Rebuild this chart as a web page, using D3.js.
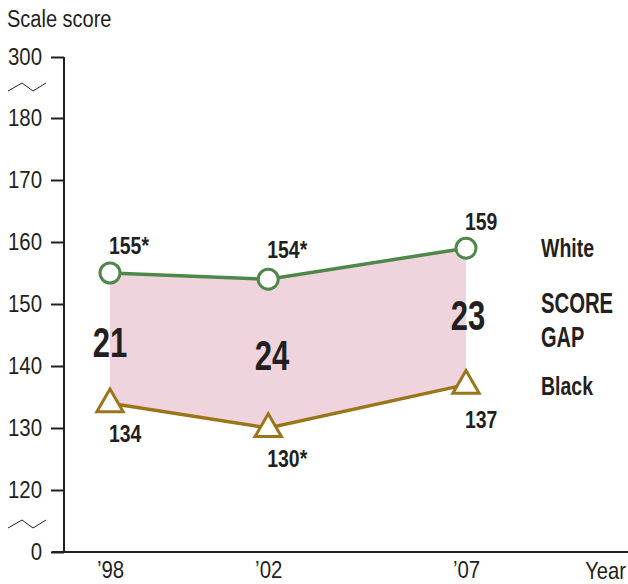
<!DOCTYPE html>
<html>
<head>
<meta charset="utf-8">
<script src="https://cdn.jsdelivr.net/npm/d3@7"></script>
<style>
  html, body { margin: 0; padding: 0; background: #ffffff; }
  svg { display: block; }
  text { font-family: "Liberation Sans", Arial, sans-serif; fill: #231f20; }
</style>
</head>
<body>
<svg id="chart" width="628" height="584"></svg>
<script>
// Scale scores by year
const years = [1998, 2002, 2007];
const yearLabels = ["\u201998", "\u201902", "\u201907"];
const whiteScores = [155, 154, 159];
const blackScores = [134, 130, 137];
const whiteLabels = ["155*", "154*", "159"];
const blackLabels = ["134", "130*", "137"];
const gaps = [21, 24, 23];
const yTicks = [0, 120, 130, 140, 150, 160, 170, 180, 300];

const svg = d3.select("#chart");
const green = "#4f864a";
const gold = "#9b7519";
const pink = "#f0d4dd";

// Squeeze glyphs horizontally around their anchor point to get a condensed face
function condense(sel, k) {
  sel.each(function (d) {
    const f = typeof k === "function" ? k(d) : k;
    const tx = +this.getAttribute("x") || 0;
    const ty = +this.getAttribute("y") || 0;
    this.setAttribute("transform",
      `translate(${tx},${ty}) scale(${f},1) translate(${-tx},${-ty})`);
  });
}

// Broken y scale: 0 and 300 sit one step outside the 120–180 range
const y = d3.scaleLinear()
  .domain([0, 120, 180, 300])
  .range([552, 490, 118, 57]);
const x = d3.scaleLinear()
  .domain([1998, 2007])
  .range([110, 466]);

// Gap band between the two lines
const area = d3.area()
  .x((d, i) => x(years[i]))
  .y0((d, i) => y(blackScores[i]))
  .y1((d, i) => y(whiteScores[i]));
svg.append("path")
  .datum(years)
  .attr("d", area)
  .attr("fill", pink);

// Y axis
const yAxis = d3.axisLeft(y)
  .tickValues(yTicks)
  .tickSize(13)
  .tickPadding(9)
  .tickFormat(d3.format("d"));
const gy = svg.append("g")
  .attr("transform", "translate(64,0)")
  .call(yAxis);
gy.attr("font-family", null);
gy.select(".domain").attr("stroke", "#231f20").attr("stroke-width", 2)
  .attr("d", `M0,${y(300)}V${y(0)}`);
gy.selectAll(".tick line").attr("stroke", "#231f20").attr("stroke-width", 2);
gy.selectAll(".tick text")
  .attr("font-size", 24)
  .attr("fill", "#231f20")
  .call(condense, 0.85);

// Scale-break marks
[y(300) + 30, y(0) - 28].forEach(yy => {
  svg.append("path")
    .attr("d", `M8,${yy + 4}L22,${yy - 4}L33,${yy + 4}L46,${yy - 4}`)
    .attr("fill", "none")
    .attr("stroke", "#231f20")
    .attr("stroke-width", 1);
});

// X axis
const xAxis = d3.axisBottom(x)
  .tickValues(years)
  .tickSize(0)
  .tickPadding(9)
  .tickFormat((d, i) => yearLabels[i]);
const gx = svg.append("g")
  .attr("transform", `translate(0,${y(0)})`)
  .call(xAxis);
gx.attr("font-family", null);
gx.select(".domain").attr("stroke", "#231f20").attr("stroke-width", 2)
  .attr("d", "M52,0H628");
gx.selectAll(".tick text")
  .attr("font-size", 24)
  .attr("fill", "#231f20")
  .call(condense, 0.85);

svg.append("text")
  .attr("x", 626).attr("y", 579)
  .attr("text-anchor", "end")
  .attr("font-size", 24)
  .text("Year")
  .call(condense, 0.84);

svg.append("text")
  .attr("x", 7).attr("y", 27)
  .attr("font-size", 23)
  .text("Scale score")
  .call(condense, 0.87);

// Lines
const line = d3.line().x(d => x(d[0])).y(d => y(d[1]));
svg.append("path")
  .datum(years.map((yr, i) => [yr, whiteScores[i]]))
  .attr("d", line)
  .attr("fill", "none")
  .attr("stroke", green)
  .attr("stroke-width", 3.5);
svg.append("path")
  .datum(years.map((yr, i) => [yr, blackScores[i]]))
  .attr("d", line)
  .attr("fill", "none")
  .attr("stroke", gold)
  .attr("stroke-width", 3.5);

// Markers
svg.selectAll("circle.white")
  .data(years)
  .join("circle")
  .attr("class", "white")
  .attr("cx", d => x(d))
  .attr("cy", (d, i) => y(whiteScores[i]))
  .attr("r", 10)
  .attr("fill", "#ffffff")
  .attr("stroke", green)
  .attr("stroke-width", 3);

const tri = d3.symbol().type(d3.symbolTriangle).size(300);
svg.selectAll("path.black")
  .data(years)
  .join("path")
  .attr("class", "black")
  .attr("transform", (d, i) => `translate(${x(d)},${y(blackScores[i]) + 1})`)
  .attr("d", tri)
  .attr("fill", "#ffffff")
  .attr("stroke", gold)
  .attr("stroke-width", 3);

// Value labels
const whiteOffsets = [-19, -21, -18];
svg.selectAll("text.wl")
  .data(years)
  .join("text")
  .attr("class", "wl")
  .attr("x", d => x(d) - 1)
  .attr("y", (d, i) => y(whiteScores[i]) + whiteOffsets[i])
  .attr("font-size", 24)
  .attr("font-weight", "bold")
  .text((d, i) => whiteLabels[i])
  .call(condense, 0.81);

const blackOffsets = [39, 39, 43];
svg.selectAll("text.bl")
  .data(years)
  .join("text")
  .attr("class", "bl")
  .attr("x", d => x(d) - 1)
  .attr("y", (d, i) => y(blackScores[i]) + blackOffsets[i])
  .attr("font-size", 24)
  .attr("font-weight", "bold")
  .text((d, i) => blackLabels[i])
  .call(condense, 0.81);

// Gap values
const gapPos = [[110, 357], [272, 370], [468, 330]];
svg.selectAll("text.gap")
  .data(gaps)
  .join("text")
  .attr("class", "gap")
  .attr("x", (d, i) => gapPos[i][0])
  .attr("y", (d, i) => gapPos[i][1])
  .attr("text-anchor", "middle")
  .attr("font-size", 42)
  .attr("font-weight", "bold")
  .text(d => d)
  .call(condense, 0.74);

// Legend
const legend = [
  { t: "White", y: 257, s: 25, k: 0.78 },
  { t: "SCORE", y: 313, s: 29, k: 0.70 },
  { t: "GAP", y: 347, s: 29, k: 0.69 },
  { t: "Black", y: 395, s: 25, k: 0.78 }
];
svg.selectAll("text.leg")
  .data(legend)
  .join("text")
  .attr("class", "leg")
  .attr("x", 541)
  .attr("y", d => d.y)
  .attr("font-size", d => d.s)
  .attr("font-weight", "bold")
  .text(d => d.t)
  .call(condense, d => d.k);
</script>
</body>
</html>
